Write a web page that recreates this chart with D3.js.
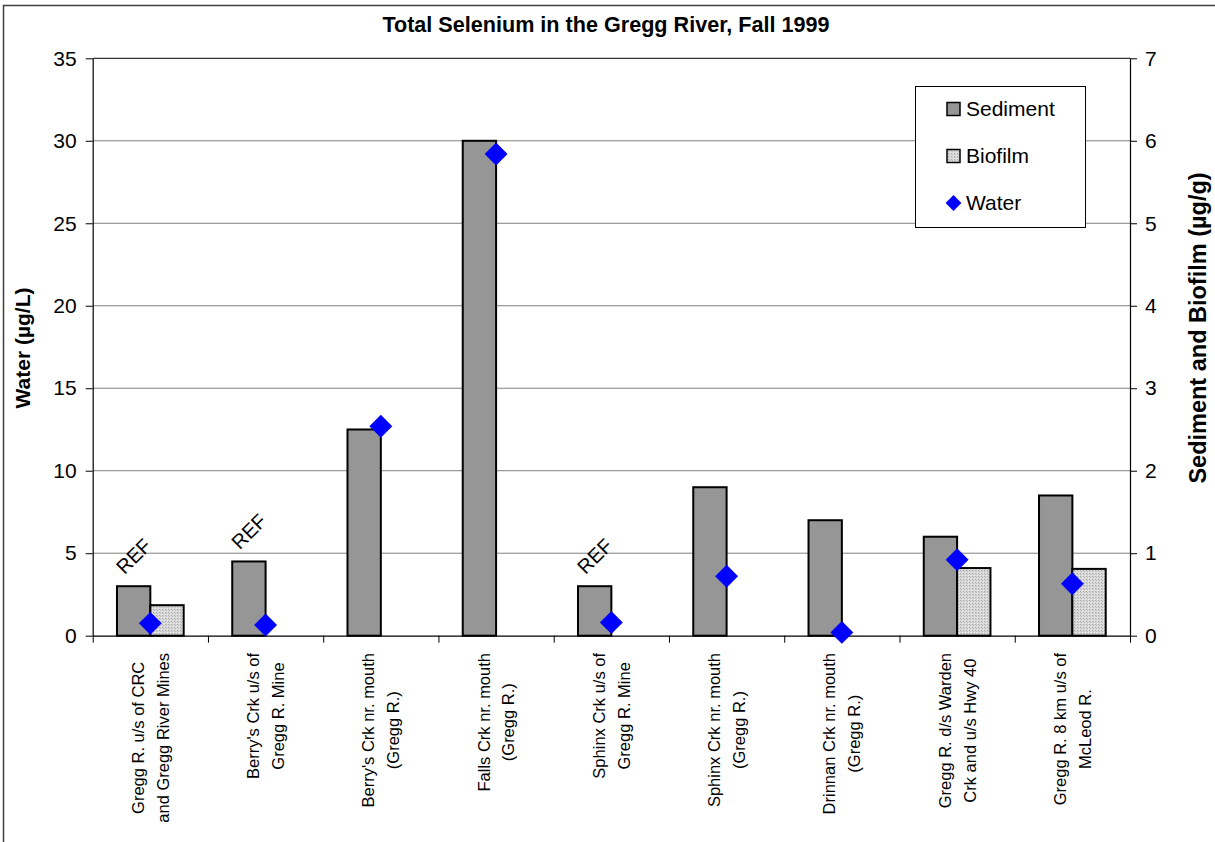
<!DOCTYPE html>
<html>
<head>
<meta charset="utf-8">
<script src="https://cdn.jsdelivr.net/npm/d3@7"></script>
<style>
  html, body { margin: 0; padding: 0; background: #fff; }
  svg { display: block; font-family: "Liberation Sans", Arial, sans-serif; }
</style>
</head>
<body>
<svg id="chart" width="1215" height="842"></svg>
<script>
// Sampling sites along the Gregg River (each label is split into its two printed lines)
const categories = [
  ["Gregg R. u/s of CRC", "and Gregg River Mines"],
  ["Berry's Crk u/s of", "Gregg R. Mine"],
  ["Berry's Crk nr. mouth", "(Gregg R.)"],
  ["Falls Crk nr. mouth", "(Gregg R.)"],
  ["Sphinx Crk u/s of", "Gregg R. Mine"],
  ["Sphinx Crk nr. mouth", "(Gregg R.)"],
  ["Drinnan Crk nr. mouth", "(Gregg R.)"],
  ["Gregg R. d/s Warden", "Crk and u/s Hwy 40"],
  ["Gregg R. 8 km u/s of", "McLeod R."]
];
// Reference-site flags shown above the sediment bar
const refFlags = ["REF", "REF", "", "", "REF", "", "", "", ""];

// Total selenium, sediment and biofilm (µg/g, right axis)
const sediment = [0.6, 0.9, 2.5, 6.0, 0.6, 1.8, 1.4, 1.2, 1.7];
const biofilm  = [0.37, null, null, null, null, null, null, 0.82, 0.81];
// Total selenium in water (µg/L, left axis)
const water    = [0.75, 0.65, 12.7, 29.2, 0.8, 3.6, 0.2, 4.6, 3.15];

const leftTicks  = [0, 5, 10, 15, 20, 25, 30, 35];
const rightTicks = [0, 1, 2, 3, 4, 5, 6, 7];

const seriesNames = ["Sediment", "Biofilm", "Water"];

const svg = d3.select("#chart");
const plot = { left: 92.7, right: 1130, top: 58.3, bottom: 635.7 };
const FONT = "'Liberation Sans', Arial, sans-serif";

// Biofilm fill: fine light-grey stipple
const defs = svg.append("defs");
const pat = defs.append("pattern")
  .attr("id", "stipple").attr("patternUnits", "userSpaceOnUse")
  .attr("width", 3).attr("height", 3);
pat.append("rect").attr("width", 3).attr("height", 3).attr("fill", "#d8d8d8");
pat.append("rect").attr("x", 0).attr("y", 0).attr("width", 1).attr("height", 1).attr("fill", "#a8a8a8");
pat.append("rect").attr("x", 1).attr("y", 1).attr("width", 1).attr("height", 1).attr("fill", "#bcbcbc");
pat.append("rect").attr("x", 2).attr("y", 2).attr("width", 1).attr("height", 1).attr("fill", "#ececec");

// Outer chart frame
svg.append("rect")
  .attr("x", 3.5).attr("y", 5.5).attr("width", 1230).attr("height", 860)
  .attr("fill", "none").attr("stroke", "#404040").attr("stroke-width", 1.5);

// Scales
const idx = categories.map((d, i) => i);
const x = d3.scaleBand().domain(idx).range([plot.left, plot.right]).paddingInner(0).paddingOuter(0);
const groupFrac = 0.5787;
const xSub = d3.scaleBand().domain(["Sediment", "Biofilm"])
  .range([x.bandwidth() * (1 - groupFrac) / 2, x.bandwidth() * (1 + groupFrac) / 2]);
const yL = d3.scaleLinear().domain([0, 35]).range([plot.bottom, plot.top]);
const yR = d3.scaleLinear().domain([0, 7]).range([plot.bottom, plot.top]);

// Horizontal gridlines
svg.append("g").selectAll("line")
  .data(leftTicks.filter(t => t > 0))
  .join("line")
  .attr("x1", plot.left).attr("x2", plot.right)
  .attr("y1", d => yL(d)).attr("y2", d => yL(d))
  .attr("stroke", d => d === 35 ? "#000" : "#808080").attr("stroke-width", 1);

// Bars
const barG = svg.append("g");
barG.selectAll("rect.sed")
  .data(sediment.map((v, i) => ({ i, v })))
  .join("rect").attr("class", "sed")
  .attr("x", d => x(d.i) + xSub("Sediment"))
  .attr("width", xSub.bandwidth())
  .attr("y", d => yR(d.v))
  .attr("height", d => yR(0) - yR(d.v))
  .attr("fill", "#969696").attr("stroke", "#000").attr("stroke-width", 2);

barG.selectAll("rect.bio")
  .data(biofilm.map((v, i) => ({ i, v })).filter(d => d.v != null))
  .join("rect").attr("class", "bio")
  .attr("x", d => x(d.i) + xSub("Biofilm"))
  .attr("width", xSub.bandwidth())
  .attr("y", d => yR(d.v))
  .attr("height", d => yR(0) - yR(d.v))
  .attr("fill", "url(#stipple)").attr("stroke", "#000").attr("stroke-width", 2);

// Axes
const axL = svg.append("g").attr("transform", `translate(${plot.left},0)`)
  .call(d3.axisLeft(yL).tickValues(leftTicks).tickSize(7).tickSizeOuter(0).tickPadding(9)
    .tickFormat(d3.format("d")));
const axR = svg.append("g").attr("transform", `translate(${plot.right},0)`)
  .call(d3.axisRight(yR).tickValues(rightTicks).tickSize(7).tickSizeOuter(0).tickPadding(8)
    .tickFormat(d3.format("d")));
const xPos = d3.scaleLinear().domain([0, categories.length]).range([plot.left, plot.right]);
const axB = svg.append("g").attr("transform", `translate(0,${plot.bottom})`)
  .call(d3.axisBottom(xPos).tickValues(d3.range(categories.length + 1)).tickSize(7).tickSizeOuter(0).tickFormat(""));
[axL, axR, axB].forEach(a => {
  a.selectAll("path.domain").attr("stroke", "#000").attr("stroke-width", 1.2);
  a.selectAll(".tick line").attr("stroke", "#000").attr("stroke-width", 1);
  a.selectAll("text").attr("font-family", FONT).attr("font-size", 21).attr("fill", "#000");
});

// Water diamonds
svg.append("g").selectAll("path")
  .data(water.map((v, i) => ({ i, v })))
  .join("path")
  .attr("d", d3.symbol(d3.symbolSquare, 262))
  .attr("transform", d => `translate(${x(d.i) + x.bandwidth() / 2},${yL(d.v)}) rotate(45)`)
  .attr("fill", "#0000ff");

// REF labels above the sediment bar
svg.append("g").selectAll("text")
  .data(refFlags.map((t, i) => ({ t, i })).filter(d => d.t))
  .join("text")
  .attr("transform", d => `translate(${x(d.i) + xSub("Sediment") + xSub.bandwidth() / 2},${yR(sediment[d.i]) - 30}) rotate(-45)`)
  .attr("text-anchor", "middle").attr("dy", "0.35em")
  .attr("font-family", FONT).attr("font-size", 20).attr("fill", "#000")
  .text(d => d.t);

// Category labels, rotated and centred under each site
const labelTop = 653;
const lineGap = 25;
categories.forEach((lines, i) => {
  const cx = x(i) + x.bandwidth() / 2;
  const g = svg.append("g").attr("transform", `translate(${cx},${labelTop}) rotate(-90)`);
  const texts = lines.map((ln, j) => g.append("text")
    .attr("y", (j - (lines.length - 1) / 2) * lineGap + 5.9)
    .attr("text-anchor", "middle")
    .attr("font-family", FONT).attr("font-size", 16.5).attr("fill", "#000")
    .text(ln));
  const maxLen = d3.max(texts, t => t.node().getComputedTextLength());
  texts.forEach(t => t.attr("x", -maxLen / 2));
});

// Title
svg.append("text")
  .attr("x", 606).attr("y", 32)
  .attr("text-anchor", "middle")
  .attr("font-family", FONT).attr("font-weight", "bold").attr("font-size", 21.6)
  .text("Total Selenium in the Gregg River, Fall 1999");

// Axis titles
svg.append("text")
  .attr("transform", `translate(30,348) rotate(-90)`)
  .attr("text-anchor", "middle")
  .attr("font-family", FONT).attr("font-weight", "bold").attr("font-size", 21)
  .text("Water (µg/L)");
svg.append("text")
  .attr("transform", `translate(1205.5,328) rotate(-90)`)
  .attr("text-anchor", "middle")
  .attr("font-family", FONT).attr("font-weight", "bold").attr("font-size", 23.5)
  .text("Sediment and Biofilm (µg/g)");

// Legend
const lg = svg.append("g");
lg.append("rect").attr("x", 915.5).attr("y", 86.5).attr("width", 170).attr("height", 141)
  .attr("fill", "#fff").attr("stroke", "#000").attr("stroke-width", 1);
const legY = d3.scalePoint().domain(seriesNames).range([109, 203]);
seriesNames.forEach(name => {
  const cy = legY(name);
  if (name === "Water") {
    lg.append("path").attr("d", d3.symbol(d3.symbolSquare, 125))
      .attr("transform", `translate(953.5,${cy}) rotate(45)`).attr("fill", "#0000ff");
  } else {
    lg.append("rect").attr("x", 947).attr("y", cy - 6.5).attr("width", 13).attr("height", 13)
      .attr("fill", name === "Sediment" ? "#969696" : "url(#stipple)")
      .attr("stroke", "#000").attr("stroke-width", 1.5);
  }
  lg.append("text").attr("x", 966).attr("y", cy).attr("dy", "0.35em")
    .attr("font-family", FONT).attr("font-size", 21).attr("fill", "#000")
    .text(name);
});
</script>
</body>
</html>
